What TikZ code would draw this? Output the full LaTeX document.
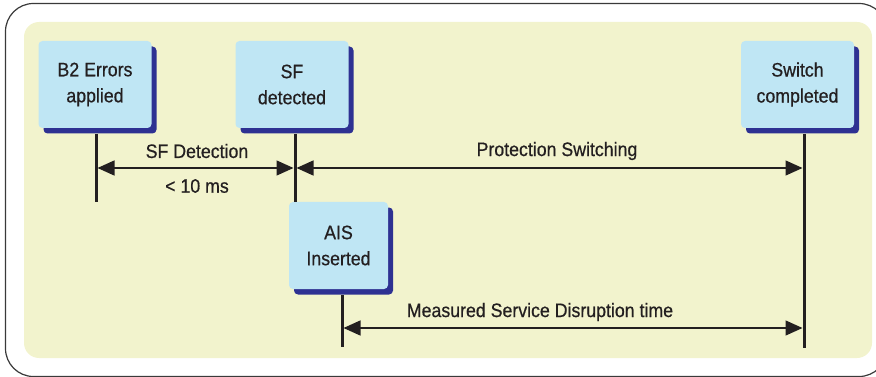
\documentclass[tikz,border=0pt]{standalone}
\usepackage{fontspec}
\setmainfont[FakeStretch=0.91,FakeBold=0.6]{Liberation Sans}
\usetikzlibrary{arrows.meta,shadows}
\definecolor{panel}{HTML}{F2F3CD}
\definecolor{boxfill}{HTML}{BFE6F4}
\definecolor{boxshade}{HTML}{2E3192}
\definecolor{ink}{HTML}{231F20}
\definecolor{frame}{HTML}{3A3A3A}
\tikzset{
  event/.style={fill=boxfill, rounded corners=4pt, inner sep=0pt,
    minimum width=113pt, minimum height=87pt, align=center,
    text=ink, font=\fontsize{19.5}{26}\selectfont,
    drop shadow={shadow xshift=5pt, shadow yshift=-5.5pt, fill=boxshade, opacity=1}},
  lbl/.style={text=ink, font=\fontsize{19.5}{22}\selectfont, inner sep=0pt},
  marker/.style={draw=ink, line width=3pt},
  span/.style={draw=ink, line width=1.4pt,
    {Triangle[length=17pt,width=15pt]}-{Triangle[length=17pt,width=15pt]}},
}
\begin{document}
\begin{tikzpicture}[x=1pt,y=-1pt]
\useasboundingbox (0,0) rectangle (876,377);
\clip (0,0) rectangle (876,377);
% outer frame and panel
\draw[frame, line width=1.2pt, rounded corners=28pt] (5.5,3.5) rectangle (887,376.5);
\fill[panel, rounded corners=15pt] (24,22) rectangle (872,358);

% event boxes
\node[event] (b2) at (95,84.5) {B2 Errors\\applied};
\node[event] (sf) at (292,84.5) {SF\\detected};
\node[event] (sw) at (797.5,84.5) {Switch\\completed};
\node[event, minimum width=99pt] (ais) at (338.5,245.5) {AIS\\Inserted};

% time markers
\coordinate (b2top) at (96,134);  \coordinate (b2bot) at (96,202);
\coordinate (sftop) at (295,134); \coordinate (sfbot) at (295,202);
\coordinate (swtop) at (804,134); \coordinate (swbot) at (804,348);
\coordinate (aistop) at (342,295); \coordinate (aisbot) at (342,347);
\draw[marker] (b2top) -- (b2bot);
\draw[marker] (sftop) -- (sfbot);
\draw[marker] (swtop) -- (swbot);
\draw[marker] (aistop) -- (aisbot);

% intervals
\coordinate (d1) at (97.5,168);  \coordinate (d2) at (293.5,168);
\coordinate (p1) at (296.5,168); \coordinate (p2) at (802.5,168);
\coordinate (m1) at (343.5,328); \coordinate (m2) at (802.5,328);
\draw[span] (d1) -- (d2);
\draw[span] (p1) -- (p2);
\draw[span] (m1) -- (m2);

% interval labels
\node[lbl] (det) at (197,151) {SF Detection};
\node[lbl] (lim) at (197,186) {< 10 ms};
\node[lbl] (prot) at (557,151) {Protection Switching};
\node[lbl] (meas) at (540,312) {Measured Service Disruption time};
\end{tikzpicture}
\end{document}
